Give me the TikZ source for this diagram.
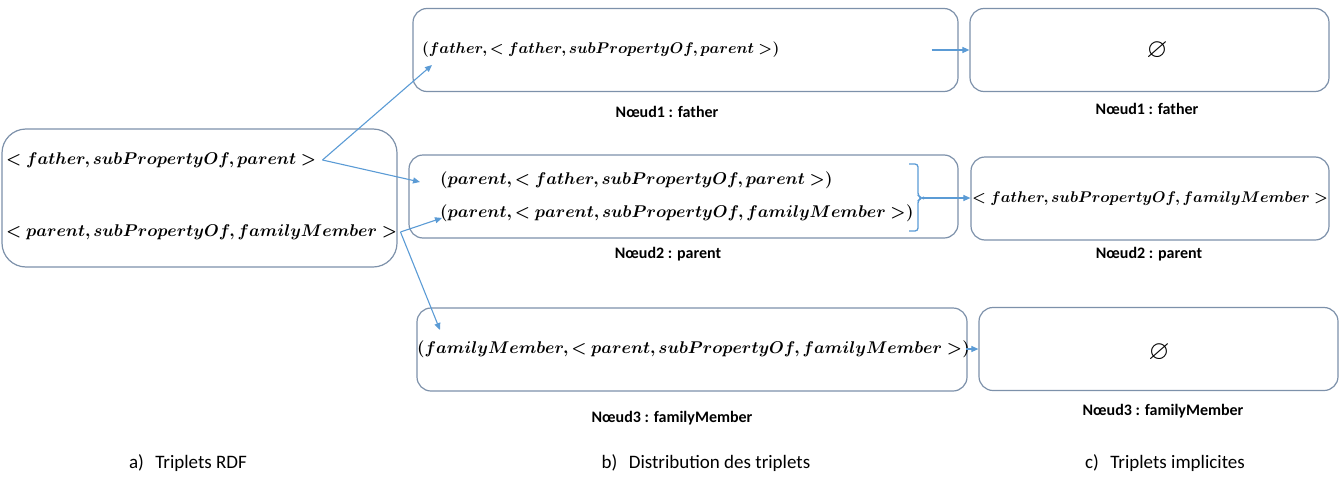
\documentclass[tikz,border=0pt]{standalone}
\usepackage{fix-cm}
\usepackage{bm}
\usepackage{amssymb}
\usepackage{fontspec}
\setmainfont{Carlito}
\usetikzlibrary{arrows.meta,positioning}
\definecolor{bordure}{RGB}{125,145,170}
\definecolor{fleche}{RGB}{91,155,213}
\tikzset{
  boite/.style={draw=bordure, line width=1.2pt, rounded corners=14pt, inner sep=0pt},
  triplet/.style={anchor=west, inner sep=0pt, font=\fontsize{17}{20}\selectfont},
  serre/.style={font=\fontsize{15.5}{18}\selectfont},
  vide/.style={inner sep=0pt, font=\fontsize{27}{30}\selectfont},
  etiq/.style={font=\fontsize{16}{19}\selectfont\bfseries, inner sep=0pt},
  legende/.style={font=\fontsize{19}{22}\selectfont, inner sep=0pt},
  lien/.style={draw=fleche, line width=1.1pt, -{Triangle[length=7pt,width=6pt]}},
}
\begin{document}
\begin{tikzpicture}[x=1pt,y=-1pt]
\useasboundingbox (0,0) rectangle (1343,479);
% Boites
\node[boite, rounded corners=24pt, minimum width=395, minimum height=138] (rdf) at (199.5,198) {};
\foreach \n/\cx/\cy/\w in {d1/685.5/50/545, d2/683.5/196.5/549, d3/692/349.5/550,
                            c1/1149.5/50/359, c2/1150/198.5/358, c3/1158.5/349/359} {
    \node[boite, minimum width=\w, minimum height=83] (\n) at (\cx,\cy) {};
}

% Triplets
\node[triplet] (r1) at (6,160) {$\bm{<father, subPropertyOf, parent>}$};
\node[triplet] (r2) at (6,232) {$\bm{<parent, subPropertyOf, familyMember>}$};
\node[triplet, serre] (t1) at (422,50) {$\bm{(father, <father, subPropertyOf, parent>)}$};
\node[triplet] (t2) at (440,180) {$\bm{(parent, <father, subPropertyOf, parent>)}$};
\node[triplet] (t3) at (440,213) {$\bm{(parent, <parent, subPropertyOf, familyMember>)}$};
\node[triplet] (t4) at (417,349) {$\bm{(familyMember, <parent, subPropertyOf, familyMember>)}$};
\node[triplet, serre] (i2) at (972,199) {$\bm{<father, subPropertyOf, familyMember>}$};
\node[vide] (i1) at (1157,51) {$\bm{\varnothing}$};
\node[vide] (i3) at (1159,353) {$\bm{\varnothing}$};

% Etiquettes des noeuds
\foreach \n/\x/\y/\txt in {e1/667/112/Nœud1 : father, e2/668/254/Nœud2 : parent,
                           e3/672/418/Nœud3 : familyMember, f1/1147/109/Nœud1 : father,
                           f2/1149/254/Nœud2 : parent, f3/1163/411/Nœud3 : familyMember} {
    \node[etiq] (\n) at (\x,\y) {\txt};
}

% Legendes
\node[legende] (la) at (188,463) {a)\hspace{0.6em}Triplets RDF};
\node[legende] (lb) at (706,463) {b)\hspace{0.6em}Distribution des triplets};
\node[legende] (lc) at (1165,463) {c)\hspace{0.6em}Triplets implicites};

% Fleches
\coordinate (v1) at ([xshift=6]r1.east);
\coordinate (v2) at ([xshift=3]r2.east);
\draw[lien] (v1) -- ([shift={(10,15)}]t1.west);
\draw[lien] (v1) -- ([shift={(-20,2)}]t2.west);
\draw[lien] (v2) -- ([shift={(2,5)}]t3.west);
\draw[lien] (v2) -- ([shift={(23,-19)}]t4.west);
\draw[lien] ([xshift=-27]d1.east |- c1.west) -- (c1.west);

% Accolade
\draw[fleche, line width=1.3pt, rounded corners=3pt] (909,164) -- (918,164) -- (918,196)
    -- (922,198) -- (918,200) -- (918,231) -- (909,231);
\coordinate (acc) at (922,198);
\draw[lien] (acc) -- (c2.west |- acc);
\draw[lien] ([xshift=-4]t4.east) -- (c3.west |- t4.east);
\end{tikzpicture}
\end{document}
